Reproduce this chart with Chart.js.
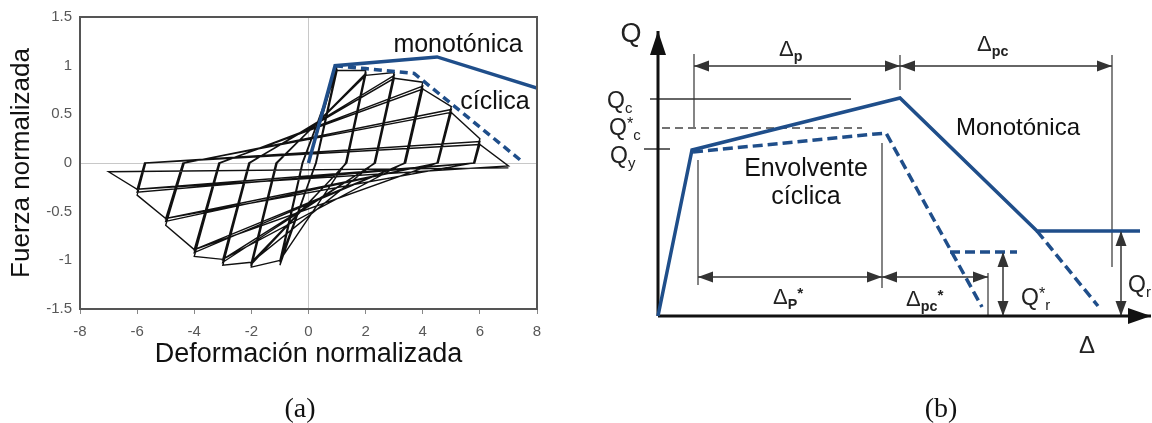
<!DOCTYPE html>
<html>
<head>
<meta charset="utf-8">
<script src="https://cdn.jsdelivr.net/npm/chart.js@4.4.0/dist/chart.umd.min.js"></script>
<style>
html, body { margin: 0; padding: 0; background: #fff; }
#wrap { position: relative; width: 1152px; height: 423px; overflow: hidden; font-family: "Liberation Sans", Arial, sans-serif; color: #111; }
#cA { position: absolute; left: 0; top: 0; }
#cB { position: absolute; left: 560px; top: 0; }
.t { position: absolute; white-space: nowrap; line-height: 1; transform: translate(-50%, -50%); }
.tl { position: absolute; white-space: nowrap; line-height: 1; transform: translateY(-50%); color: #222; }
.sb { font-size: 0.65em; position: relative; top: 0.32em; }
.sp { font-size: 0.7em; position: relative; top: -0.4em; }
.b { font-weight: bold; }
.serif { font-family: "Liberation Serif", "Times New Roman", serif; }
</style>
</head>
<body>
<div id="wrap">
  <canvas id="cA" width="560" height="423"></canvas>
  <canvas id="cB" width="592" height="423"></canvas>

  <!-- panel (a) labels -->
  <div class="t" style="left:458px;top:43px;font-size:25px">monotónica</div>
  <div class="t" style="left:495px;top:100px;font-size:25px">cíclica</div>
  <div class="t serif" style="left:300px;top:408px;font-size:28px">(a)</div>

  <!-- panel (b) labels -->
  <div class="t" style="left:631px;top:33px;font-size:27px;color:#222">Q</div>
  <div class="tl" style="left:607px;top:100px;font-size:23px">Q<span class="sb">c</span></div>
  <div class="tl" style="left:609px;top:127px;font-size:23px">Q<span class="sp">*</span><span class="sb">c</span></div>
  <div class="tl" style="left:610px;top:155px;font-size:23px">Q<span class="sb">y</span></div>
  <div class="tl" style="left:779px;top:49px;font-size:22px">Δ<span class="sb b">p</span></div>
  <div class="tl" style="left:977px;top:44px;font-size:22px">Δ<span class="sb b">pc</span></div>
  <div class="t" style="left:1018px;top:127px;font-size:24px">Monotónica</div>
  <div class="t" style="left:806px;top:167px;font-size:25px">Envolvente</div>
  <div class="t" style="left:806px;top:195px;font-size:25px">cíclica</div>
  <div class="tl" style="left:773px;top:297px;font-size:22px">Δ<span class="sb b">P</span><span class="sp b">*</span></div>
  <div class="tl" style="left:906px;top:299px;font-size:22px">Δ<span class="sb b">pc</span><span class="sp b">*</span></div>
  <div class="tl" style="left:1021px;top:297px;font-size:23px">Q<span class="sp">*</span><span class="sb">r</span></div>
  <div class="tl" style="left:1128px;top:284px;font-size:23px">Q<span class="sb">r</span></div>
  <div class="t" style="left:1087px;top:345px;font-size:24px;color:#222">Δ</div>
  <div class="t serif" style="left:941px;top:408px;font-size:28px">(b)</div>
</div>

<script>
// ---------- panel (a): normalized hysteresis ----------
const xTicksA = [-8, -6, -4, -2, 0, 2, 4, 6, 8];
const yTicksA = [-1.5, -1, -0.5, 0, 0.5, 1, 1.5];

// monotonic backbone
const monoX = [0, 0.93, 4.5, 8.0];
const monoY = [0, 1.0, 1.09, 0.77];

// cyclic envelope (dashed)
const cycX = [0.93, 2.0, 3.7, 7.5];
const cycY = [1.0, 0.97, 0.92, 0.01];

// hysteresis path, read peak by peak (3 cycles per amplitude)
const loopX = [0, 1.0, 0.25, -1.0, -0.2, 1.0, 0.25, -1.0, -0.2, 1.0, 0.27, -1.0, -0.22,
  1.0, 2.0, 1.3, -1.0, -2.0, -1.1, 2.0, 1.32, -2.0, -1.12, 2.0, 1.34, -2.0, -1.14,
  2.0, 3.0, 2.3, -2.0, -3.0, -2.05, 3.0, 2.32, -3.0, -2.07, 3.0, 2.34, -3.0, -2.09,
  3.0, 4.0, 3.35, -3.0, -4.0, -3.1, 4.0, 3.38, -4.0, -3.12, 4.0, 3.4, -4.0, -3.14,
  4.0, 5.0, 4.5, -4.0, -5.0, -4.35, 5.0, 4.52, -5.0, -4.38, 5.0, 4.54, -5.0, -4.4,
  5.0, 6.0, 5.78, -5.0, -6.0, -5.7, 6.0, 5.8, -6.0, -5.72, 6.0, 5.82, -6.0, -5.74,
  6.0, 7.0, -6.0, -7.0, 7.0];
const loopY = [0, 1.0, 0, -1.05, 0, 0.97, 0, -1.02, 0, 0.95, 0, -1.0, 0,
  0.95, 0.95, 0, -1.0, -1.07, 0, 0.92, 0, -1.04, 0, 0.90, 0, -1.02, 0,
  0.90, 0.93, 0, -1.02, -1.05, 0, 0.90, 0, -1.02, 0, 0.87, 0, -0.99, 0,
  0.87, 0.83, 0, -0.99, -0.96, 0, 0.79, 0, -0.92, 0, 0.76, 0, -0.89, 0,
  0.76, 0.58, 0, -0.89, -0.64, 0, 0.55, 0, -0.60, 0, 0.52, 0, -0.57, 0,
  0.52, 0.25, 0, -0.57, -0.33, 0, 0.22, 0, -0.30, 0, 0.19, 0, -0.27, 0,
  0.19, -0.03, -0.27, -0.09, -0.05];

// ---------- panel (b): schematic Q-Δ (arbitrary units) ----------
const monoB = [[0, 0], [0.68, 3.32], [4.84, 4.36], [7.58, 1.70], [9.64, 1.70]];
const cycB = [[0.70, 3.28], [4.56, 3.66], [6.48, 0.18]];
const cycResB = [[5.84, 1.28], [7.18, 1.28]];
const monoTailB = [[7.58, 1.70], [8.80, 0.20]];
const axisQ = [[0, 0], [0, 5.70]];
const axisD = [[0, 0], [9.86, 0]];
const qcLine = [[-0.16, 4.34], [3.86, 4.34]];
const qcStarLine = [[0.08, 3.76], [4.08, 3.76]];
const qyTick = [[-0.28, 3.34], [0.24, 3.34]];
const dimP = [[0.72, 5.0], [4.84, 5.0]];
const dimPC = [[4.84, 5.0], [9.08, 5.0]];
const dimPStar = [[0.80, 0.78], [4.48, 0.78]];
const dimPCStar = [[4.48, 0.78], [6.60, 0.78]];
const dimQrStar = [[6.90, 0], [6.90, 1.28]];
const dimQr = [[9.26, 0], [9.26, 1.70]];
const extLines = [
  [[0.72, 5.24], [0.72, 3.78]],
  [[4.84, 5.22], [4.84, 4.52]],
  [[9.08, 5.22], [9.08, 0.98]],
  [[0.80, 3.12], [0.80, 0.62]],
  [[4.48, 3.46], [4.48, 0.56]],
  [[6.60, 0.86], [6.60, 0]]
];

const BLUE = '#1F4E8A';
const FONT = '"Liberation Sans", Arial, sans-serif';

const zip = (xs, ys) => xs.map((x, i) => ({ x, y: ys[i] }));
const pts = arr => arr.map(([x, y]) => ({ x, y }));

// box around the plot area
const framePlugin = {
  id: 'frame',
  afterDraw(chart, args, opts) {
    if (!opts.color) return;
    const { ctx, chartArea: a } = chart;
    ctx.save();
    ctx.strokeStyle = opts.color;
    ctx.lineWidth = opts.width;
    ctx.strokeRect(a.left, a.top, a.right - a.left, a.bottom - a.top);
    ctx.restore();
  }
};

// arrowheads at the ends of a dataset line
const arrowPlugin = {
  id: 'arrows',
  afterDatasetsDraw(chart) {
    const ctx = chart.ctx;
    chart.data.datasets.forEach((ds, i) => {
      if (!ds.arrows) return;
      const p = chart.getDatasetMeta(i).data;
      const n = p.length;
      const [len, half] = ds.arrowSize || [15, 5.5];
      const head = (tip, from) => {
        const ang = Math.atan2(tip.y - from.y, tip.x - from.x);
        ctx.save();
        ctx.translate(tip.x, tip.y);
        ctx.rotate(ang);
        ctx.beginPath();
        ctx.moveTo(0, 0);
        ctx.lineTo(-len, half);
        ctx.lineTo(-len, -half);
        ctx.closePath();
        ctx.fillStyle = ds.borderColor;
        ctx.fill();
        ctx.restore();
      };
      if (ds.arrows === 'end' || ds.arrows === 'both') head(p[n - 1], p[n - 2]);
      if (ds.arrows === 'start' || ds.arrows === 'both') head(p[0], p[1]);
    });
  }
};

new Chart(document.getElementById('cA'), {
  type: 'scatter',
  data: {
    datasets: [
      { label: 'monotónica', data: zip(monoX, monoY), showLine: true, borderColor: BLUE, borderWidth: 3.5, pointRadius: 0, order: 0 },
      { label: 'cíclica', data: zip(cycX, cycY), showLine: true, borderColor: BLUE, borderWidth: 3.5, borderDash: [8, 5], pointRadius: 0, order: 1 },
      { label: 'histéresis', data: zip(loopX, loopY), showLine: true, borderColor: '#111', borderWidth: 1.4, pointRadius: 0, order: 2 }
    ]
  },
  options: {
    responsive: false,
    animation: false,
    layout: { padding: { left: 6, top: 17, right: 23, bottom: 52 } },
    plugins: { legend: { display: false }, tooltip: { enabled: false }, frame: { color: '#555', width: 2 } },
    scales: {
      x: {
        type: 'linear', min: -8, max: 8,
        afterBuildTicks: s => { s.ticks = xTicksA.map(v => ({ value: v })); },
        afterFit: s => { s.height = 62; },
        ticks: { color: '#585858', font: { size: 15, family: FONT }, padding: 9, callback: v => String(v) },
        grid: { color: c => c.tick && c.tick.value === 0 ? '#c8c8c8' : 'transparent', tickColor: '#888', tickLength: 5 },
        border: { display: false },
        title: { display: true, text: 'Deformación normalizada', color: '#111', font: { size: 27, family: FONT }, padding: 0 }
      },
      y: {
        type: 'linear', min: -1.5, max: 1.5,
        afterBuildTicks: s => { s.ticks = yTicksA.map(v => ({ value: v })); },
        afterFit: s => { s.width = 74; },
        ticks: { color: '#585858', font: { size: 15, family: FONT }, padding: 4, callback: v => String(v) },
        grid: { color: c => c.tick && c.tick.value === 0 ? '#c8c8c8' : 'transparent', tickColor: 'transparent', tickLength: 4 },
        border: { display: false },
        title: { display: true, text: 'Fuerza normalizada', color: '#111', font: { size: 26, family: FONT }, padding: 0 }
      }
    }
  },
  plugins: [framePlugin]
});

const line = (data, color, width, extra) => Object.assign({
  data: pts(data), showLine: true, borderColor: color, borderWidth: width, pointRadius: 0, borderCapStyle: 'butt'
}, extra || {});

const dsB = [
  line(monoB, BLUE, 3.5, { order: 0 }),
  line(cycB, BLUE, 3.5, { borderDash: [10, 5], order: 1 }),
  line(cycResB, BLUE, 3.5, { borderDash: [10, 5], order: 1 }),
  line(monoTailB, BLUE, 3.5, { borderDash: [10, 5], order: 1 }),
  line(axisQ, '#111', 3, { arrows: 'end', arrowSize: [24, 8], order: 2 }),
  line(axisD, '#111', 3, { arrows: 'end', arrowSize: [23, 8], order: 2 }),
  line(qcLine, '#333', 1.5, { order: 3 }),
  line(qcStarLine, '#444', 1.3, { borderDash: [8, 5], order: 3 }),
  line(qyTick, '#333', 1.5, { order: 3 }),
  line(dimP, '#333', 1.5, { arrows: 'both', order: 3 }),
  line(dimPC, '#333', 1.5, { arrows: 'both', order: 3 }),
  line(dimPStar, '#333', 1.5, { arrows: 'both', order: 3 }),
  line(dimPCStar, '#333', 1.5, { arrows: 'both', order: 3 }),
  line(dimQrStar, '#333', 1.5, { arrows: 'both', order: 3 }),
  line(dimQr, '#333', 1.5, { arrows: 'both', order: 3 })
];
extLines.forEach(seg => dsB.push(line(seg, '#444', 1.3, { order: 3 })));

new Chart(document.getElementById('cB'), {
  type: 'scatter',
  data: { datasets: dsB },
  options: {
    responsive: false,
    animation: false,
    layout: { padding: 0 },
    plugins: { legend: { display: false }, tooltip: { enabled: false } },
    scales: {
      x: { type: 'linear', display: false, min: -1.96, max: 9.88 },
      y: { type: 'linear', display: false, min: -2.14, max: 6.32 }
    }
  },
  plugins: [arrowPlugin]
});
</script>
</body>
</html>
